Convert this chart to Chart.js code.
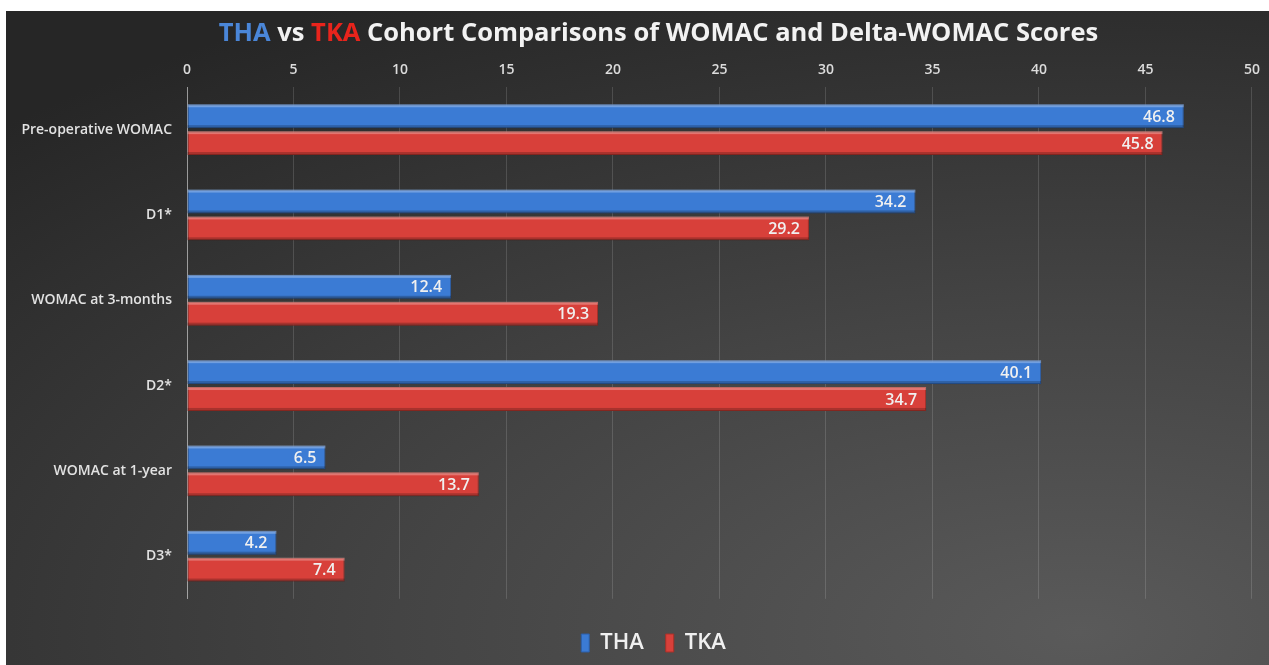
<!DOCTYPE html>
<html>
<head>
<meta charset="utf-8">
<script src="https://cdn.jsdelivr.net/npm/chart.js@4.4.1/dist/chart.umd.min.js"></script>
<style>
  html, body { margin: 0; padding: 0; background: #fff; }
  #panel {
    position: absolute; left: 6px; top: 11px; width: 1263px; height: 654px;
    background: radial-gradient(ellipse 120% 110% at 85% 95%, #5a5a5a 0%, #444 45%, #262626 100%);
  }
  #title {
    position: absolute; left: 42px; top: 3px; width: 1221px; text-align: center;
    font-family: "Open Sans", sans-serif; font-weight: 700; font-size: 25.5px; color: #f2f2f2;
  }
  #chart { position: absolute; left: 0; top: 0; }
</style>
</head>
<body>
<div id="panel">
  <canvas id="chart" width="1263" height="654"></canvas>
  <div id="title"><span style="color:#4a86d8">THA</span> vs <span style="color:#e8241c">TKA</span> Cohort Comparisons of WOMAC and Delta-WOMAC Scores</div>
</div>
<script>
  // values
  const categories = ['Pre-operative WOMAC', 'D1*', 'WOMAC at 3-months', 'D2*', 'WOMAC at 1-year', 'D3*'];
  const thaValues = [46.8, 34.2, 12.4, 40.1, 6.5, 4.2];
  const tkaValues = [45.8, 29.2, 19.3, 34.7, 13.7, 7.4];
  const xTicks = [0, 5, 10, 15, 20, 25, 30, 35, 40, 45, 50];

  // small shine on top of each bar, and the value at its end
  const barDecor = {
    id: 'barDecor',
    afterLayout(chart) {
      // legend sits a bit right of centre in the original
      chart.legend.left += 18;
      chart.legend.right += 18;
    },
    afterDatasetsDraw(chart) {
      const ctx = chart.ctx;
      chart.data.datasets.forEach(function(ds, i) {
        const meta = chart.getDatasetMeta(i);
        meta.data.forEach(function(bar, j) {
          const top = bar.y - bar.height / 2;
          const bottom = bar.y + bar.height / 2;
          ctx.save();
          ctx.fillStyle = 'rgba(255,255,255,0.28)';
          ctx.fillRect(bar.base, top, bar.x - bar.base, 3);
          ctx.fillStyle = 'rgba(0,0,0,0.22)';
          ctx.fillRect(bar.base, bottom - 3, bar.x - bar.base, 3);
          ctx.fillStyle = '#f0f0f0';
          ctx.font = '600 16px "Open Sans"';
          ctx.textAlign = 'right';
          ctx.textBaseline = 'middle';
          ctx.fillText(ds.data[j].toFixed(1), bar.x - 9, bar.y + 1);
          ctx.restore();
        });
      });
    }
  };

  const ctx = document.getElementById('chart').getContext('2d');
  const chart = new Chart(ctx, {
    type: 'bar',
    data: {
      labels: categories,
      datasets: [{
        label: 'THA',
        data: thaValues,
        backgroundColor: '#3b7bd4',
        borderColor: '#2c5fa8',
        borderWidth: 1,
        borderSkipped: false
      }, {
        label: 'TKA',
        data: tkaValues,
        backgroundColor: '#d8403a',
        borderColor: '#a83028',
        borderWidth: 1,
        borderSkipped: false
      }]
    },
    options: {
      indexAxis: 'y',
      responsive: false,
      animation: false,
      categoryPercentage: 0.63,
      barPercentage: 0.89,
      layout: { padding: { top: 40, right: 4, bottom: 1, left: 0 } },
      plugins: {
        title: { display: false },
        tooltip: { enabled: false },
        legend: {
          position: 'bottom',
          title: { display: true, text: '', font: { size: 1 }, padding: { top: 0, bottom: 10 } },
          labels: {
            color: '#f0f0f0',
            font: { family: 'Open Sans', size: 22, weight: '600' },
            boxWidth: 8,
            boxHeight: 18,
            padding: 22
          }
        }
      },
      scales: {
        x: {
          position: 'top',
          min: 0,
          max: 50,
          afterBuildTicks: function(scale) {
            scale.ticks = xTicks.map(function(v) { return { value: v }; });
          },
          afterFit: function(scale) { scale.height = 36; },
          grid: { color: 'rgba(255,255,255,0.14)', drawTicks: false },
          border: { display: false },
          ticks: {
            color: '#dcdcdc',
            font: { family: 'Open Sans', size: 14, weight: '600' },
            padding: 9
          }
        },
        y: {
          afterFit: function(scale) { scale.width = 181; },
          grid: { display: false },
          border: { color: 'rgba(255,255,255,0.45)' },
          ticks: {
            color: '#e2e2e2',
            font: { family: 'Open Sans', size: 14, weight: '600' },
            padding: 7
          }
        }
      }
    },
    plugins: [barDecor]
  });
</script>
</body>
</html>
